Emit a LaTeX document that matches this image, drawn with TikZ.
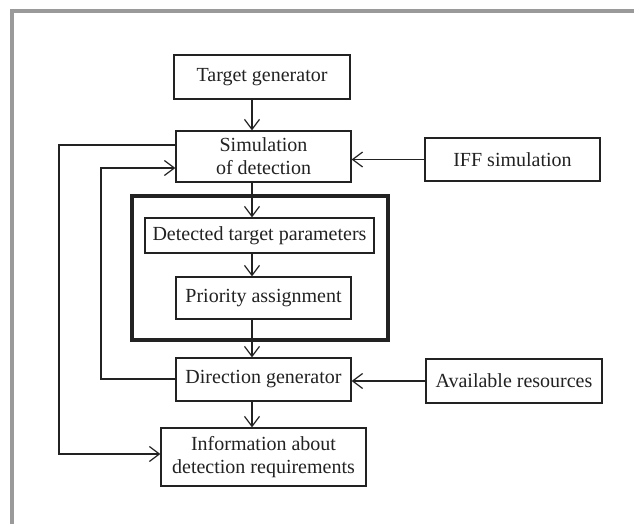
\documentclass[tikz,border=0pt]{standalone}
\usepackage{fontspec}
\setmainfont{Liberation Serif}
\usetikzlibrary{arrows.meta}
\definecolor{ink}{HTML}{222222}
\definecolor{rim}{HTML}{9A9A9A}
\begin{document}
\begin{tikzpicture}[x=1pt,y=-1pt,
  block/.style={draw=ink, line width=1.3pt, text=ink, inner sep=0pt, align=center,
    font=\fontsize{20}{23}\selectfont},
  flow/.style={draw=ink, line width=1.3pt, -{Straight Barb[length=10pt,width=15pt,line width=1.2pt]}},
  plain/.style={draw=ink, line width=1.3pt}]
\useasboundingbox (0,0) rectangle (634,524);
\fill[white] (0,0) rectangle (634,524);
% outer grey frame (top and left edges)
\draw[rim, line width=4pt] (634,11.5) -- (12,11.5) -- (12,524);

% blocks
\node[block, minimum width=176pt, minimum height=44pt] (tg)   at (262,77)    {Target generator};
\node[block, minimum width=175pt, minimum height=51pt] (sim)  at (263.5,156.5) {Simulation\\of detection};
\node[block, minimum width=175pt, minimum height=43pt] (iff)  at (512.5,159.5) {IFF simulation};
\node[draw=ink, line width=3.5pt, minimum width=256pt, minimum height=144pt, inner sep=0pt] (grp) at (260,268) {};
\node[block, minimum width=229pt, minimum height=35pt] (dtp)  at (259.5,235.5) {Detected target parameters};
\node[block, minimum width=175pt, minimum height=42pt] (pa)   at (263.5,298) {Priority assignment};
\node[block, minimum width=175pt, minimum height=43pt] (dg)   at (263.5,379.5) {Direction generator};
\node[block, minimum width=176pt, minimum height=44pt] (ar)   at (514,381)   {Available resources};
\node[block, minimum width=205pt, minimum height=58pt] (info) at (263.5,457) {Information about\\detection requirements};

% main vertical flow
\coordinate (col) at (252,0);
\draw[flow] (tg.south -| col) -- (sim.north -| col);
\draw[flow] (sim.south -| col) -- (dtp.north -| col);
\draw[flow] (dtp.south -| col) -- (pa.north -| col);
\draw[flow] (pa.south -| col) -- (dg.north -| col);
\draw[flow] (dg.south -| col) -- (info.north -| col);

% side inputs
\draw[flow] (iff.west) -- (sim.east |- iff.west);
\draw[flow] (ar.west) -- (dg.east |- ar.west);

% feedback loops
\coordinate (o1) at (59,145);
\coordinate (o2) at (59,454);
\draw[flow] (sim.west |- o1) -- (o1) -- (o2) -- (info.west |- o2);
\coordinate (i1) at (101,379);
\coordinate (i2) at (101,168);
\draw[flow] (dg.west |- i1) -- (i1) -- (i2) -- (sim.west |- i2);
\end{tikzpicture}
\end{document}
